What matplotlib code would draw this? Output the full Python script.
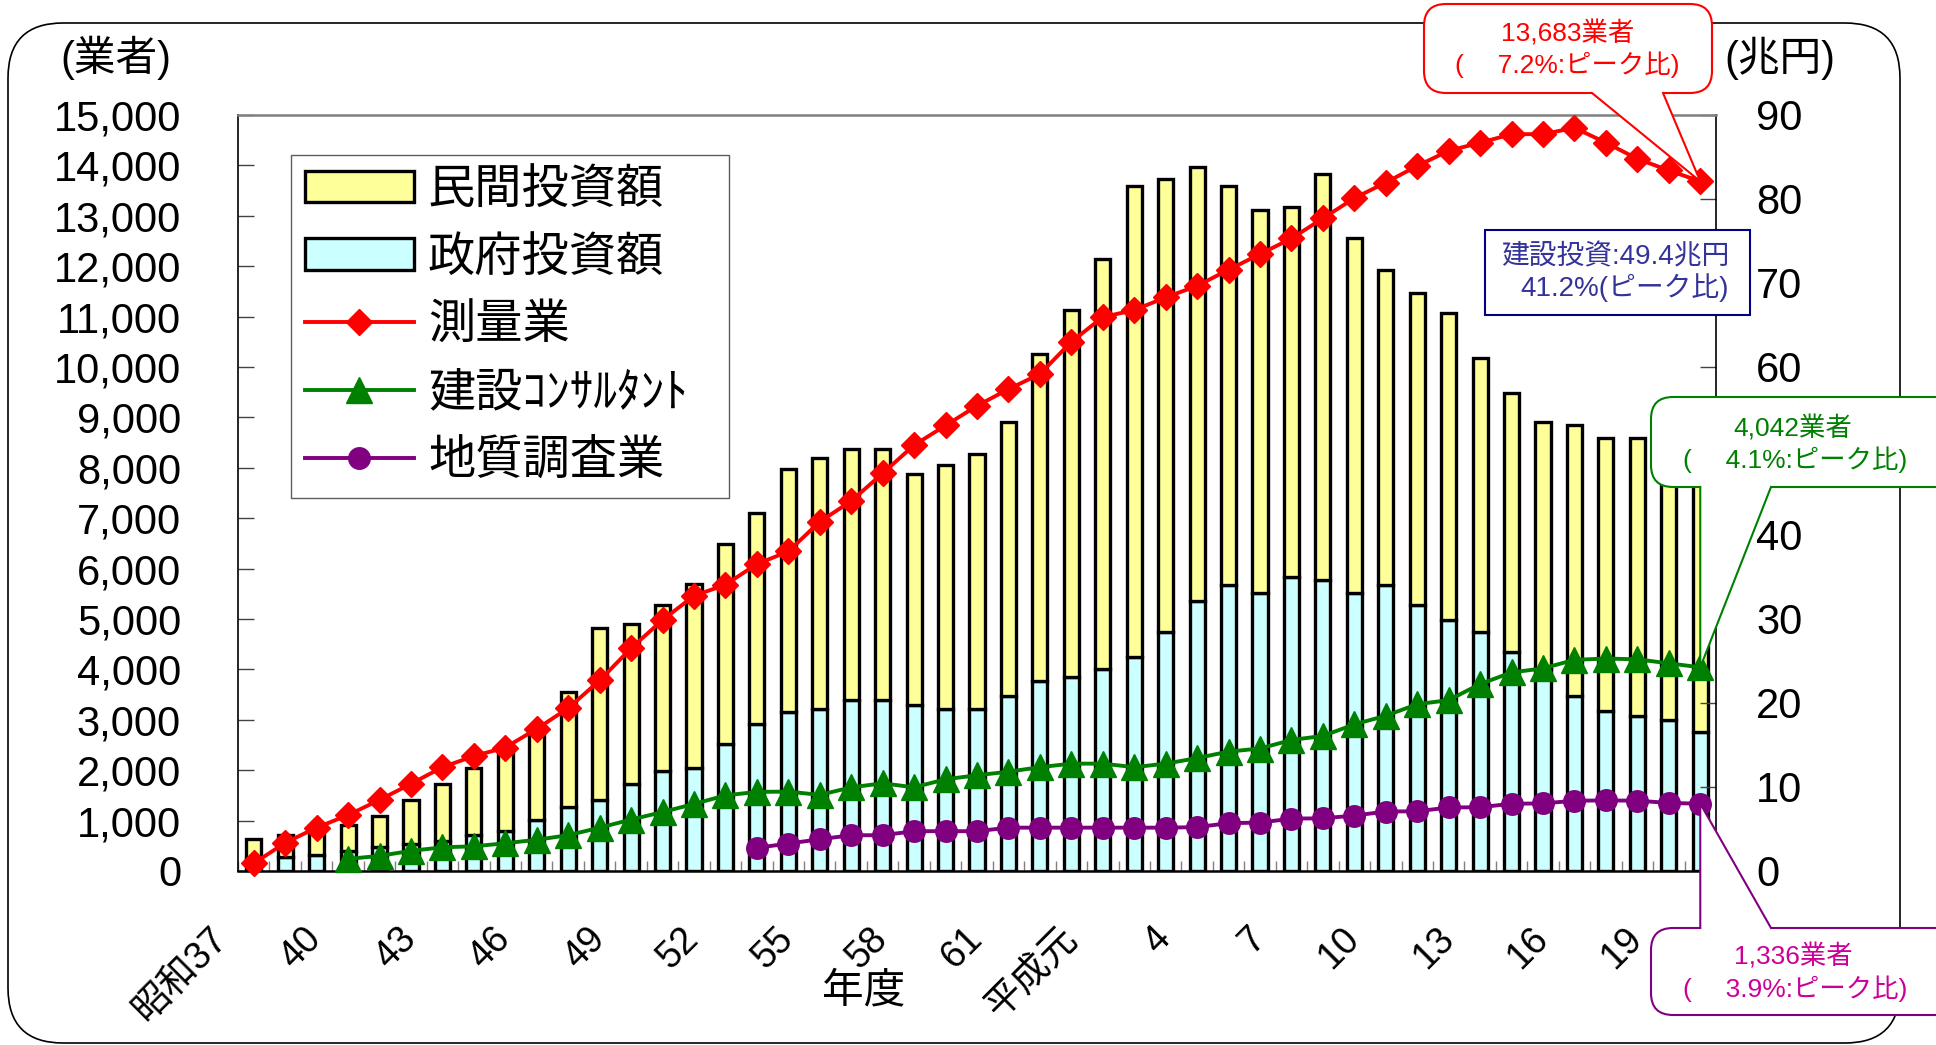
import numpy as np
import matplotlib.pyplot as plt
import matplotlib.transforms as mtransforms
from matplotlib.patches import FancyBboxPatch, Polygon, Rectangle, Patch
from matplotlib.lines import Line2D
from matplotlib.ticker import MultipleLocator, FuncFormatter

plt.rcParams['font.family'] = ['Liberation Sans', 'Noto Sans CJK JP']

# 年度 (昭和37 ~ 平成20)
tick_labels = ['昭和37', '40', '43', '46', '49', '52', '55', '58', '61',
               '平成元', '4', '7', '10', '13', '16', '19']
n_years = 47

# 建設投資 (兆円)
govt = [1.5, 1.7, 1.9, 2.4, 2.9, 3.2, 3.6, 4.3, 4.8, 6.1,
        7.6, 8.5, 10.4, 11.9, 12.3, 15.1, 17.5, 18.9, 19.3, 20.3,
        20.3, 19.8, 19.3, 19.3, 20.8, 22.6, 23.1, 24.0, 25.5, 28.4,
        32.2, 34.1, 33.1, 35.0, 34.6, 33.1, 34.1, 31.7, 29.9, 28.4,
        26.1, 24.0, 20.8, 19.0, 18.5, 18.0, 16.6]
private = [2.3, 2.6, 2.7, 3.1, 3.7, 5.3, 6.8, 8.0, 9.4, 10.3,
           13.7, 20.4, 19.0, 19.8, 21.9, 23.8, 25.1, 29.0, 29.9, 29.9,
           29.9, 27.5, 29.0, 30.4, 32.7, 38.9, 43.7, 48.9, 56.0, 54.0,
           51.6, 47.4, 45.6, 44.1, 48.4, 42.3, 37.4, 37.1, 36.5, 32.7,
           30.8, 29.5, 32.3, 32.6, 33.1, 32.0, 32.8]

# 業者数
survey = [150, 560, 860, 1110, 1410, 1730, 2060, 2280, 2450, 2820,
          3230, 3780, 4420, 4980, 5460, 5680, 6090, 6340, 6930, 7340,
          7890, 8450, 8840, 9230, 9560, 9860, 10500, 10990, 11130, 11380,
          11610, 11930, 12240, 12550, 12950, 13350, 13660, 13990, 14290, 14450,
          14620, 14620, 14745, 14450, 14130, 13900, 13683]
consult = [np.nan, np.nan, np.nan, 240, 300, 400, 470, 490, 550, 620,
           710, 860, 1020, 1170, 1330, 1500, 1570, 1575, 1510, 1660,
           1740, 1660, 1820, 1900, 1970, 2060, 2130, 2130, 2060, 2130,
           2240, 2370, 2430, 2600, 2680, 2910, 3080, 3310, 3390, 3710,
           3940, 4020, 4190, 4215, 4200, 4120, 4042]
geology = [np.nan] * 16 + [460, 545, 630, 710, 710, 790, 790, 790, 860, 860,
                           860, 860, 860, 860, 870, 950, 960, 1040, 1045, 1100,
                           1180, 1185, 1260, 1265, 1335, 1340, 1395, 1400, 1395, 1350,
                           1336]

x = np.arange(n_years)
tick_idx = np.arange(0, n_years, 3)

W, H = 1936, 1045
fig = plt.figure(figsize=(W / 100, H / 100), dpi=100)
ax = fig.add_axes([238 / W, 1 - 871 / H, 1478 / W, 756 / H])
ax2 = ax.twinx()
ax2.set_zorder(1)
ax.set_zorder(2)
ax.patch.set_visible(False)

# bars (right axis)
ax2.bar(x, govt, width=0.48, color='#CCFFFF', edgecolor='black', linewidth=2.4)
ax2.bar(x, private, width=0.48, bottom=govt, color='#FFFF99', edgecolor='black', linewidth=2.4)
ax2.set_ylim(0, 90)
ax2.yaxis.set_major_locator(MultipleLocator(10))
# the 50 label sits under the green callout in the original
ax2.yaxis.set_major_formatter(FuncFormatter(lambda v, p: '' if v == 50 else f'{v:.0f}'))
ax2.tick_params(axis='y', direction='in', length=11.5, width=1, color='#444444', pad=29, labelsize=30)
for s in ['top', 'left', 'bottom']:
    ax2.spines[s].set_visible(False)
ax2.spines['right'].set_linewidth(1.2)

# lines (left axis)
ax.plot(x, survey, color='red', lw=2.8, marker='D', ms=13.5, clip_on=False, zorder=5)
ax.plot(x, consult, color='#008000', lw=2.8, marker='^', ms=18.5, clip_on=False, zorder=4)
ax.plot(x, geology, color='#800080', lw=2.8, marker='o', ms=15.5, clip_on=False, zorder=3)

ax.set_xlim(-0.5, n_years - 0.5)
ax.set_ylim(0, 15000)
ax.yaxis.set_major_locator(MultipleLocator(1000))
ax.yaxis.set_major_formatter(FuncFormatter(lambda v, p: f'{v:,.0f}'))
ax.tick_params(axis='y', direction='in', length=11.5, width=1, color='#444444', pad=41, labelsize=30)
ax.set_xticks([])
ax.set_xticks(np.arange(-0.5, n_years, 1), minor=True)
ax.tick_params(axis='x', which='minor', direction='in', length=7, width=1, color='#808080')
ax.spines['right'].set_visible(False)
ax.spines['top'].set_color('#808080')
ax.spines['top'].set_linewidth(1.8)
ax.spines['left'].set_linewidth(1.2)
ax.spines['bottom'].set_linewidth(1.8)

# x labels, rotated
xlab_trans = (mtransforms.blended_transform_factory(ax.transData, ax.transAxes)
              + mtransforms.ScaledTranslation(-32 / 100, -62 / 100, fig.dpi_scale_trans))
for i, lab in zip(tick_idx, tick_labels):
    ax.text(i, 0, lab, transform=xlab_trans, rotation=45, rotation_mode='anchor',
            ha='right', va='center', fontsize=27)

# legend
handles = [
    Patch(facecolor='#FFFF99', edgecolor='black', linewidth=2.4),
    Patch(facecolor='#CCFFFF', edgecolor='black', linewidth=2.4),
    Line2D([], [], color='red', lw=2.8, marker='D', ms=13.5),
    Line2D([], [], color='#008000', lw=2.8, marker='^', ms=18.5),
    Line2D([], [], color='#800080', lw=2.8, marker='o', ms=15.5),
]
labels = ['民間投資額', '政府投資額', '測量業', '建設ｺﾝｻﾙﾀﾝﾄ', '地質調査業']
leg_top = (871 - 155) / 756
leg = ax.legend(handles, labels, loc='upper left',
                bbox_to_anchor=((291 - 238) / 1478, leg_top - 0.05, (729 - 291) / 1478, 0.05),
                mode='expand',
                fontsize=34, frameon=True, fancybox=False, edgecolor='#333333',
                borderpad=0.3, handlelength=2.3, handleheight=0.65,
                handletextpad=0.3, labelspacing=0.5, borderaxespad=0)
leg.get_frame().set_linewidth(1.0)

# overlay in pixel coordinates for frame, unit labels and callouts
ov = fig.add_axes([0, 0, 1, 1])
ov.set_xlim(0, W)
ov.set_ylim(H, 0)
ov.axis('off')
ov.patch.set_visible(False)
ov.set_zorder(5)

ov.add_patch(FancyBboxPatch((8, 23), 1892, 1020, boxstyle='round,pad=0,rounding_size=55',
                            fc='none', ec='black', lw=1.2, zorder=1))

ov.text(116, 58, '(業者)', ha='center', va='center', fontsize=30)
ov.text(1780, 58, '(兆円)', ha='center', va='center', fontsize=30)
ov.text(864, 991, '年度', ha='center', va='center', fontsize=30)


def to_px(axes, xv, yv):
    px, py = axes.transData.transform((xv, yv))
    return px, H - py


def callout(box, base_x, tip, color, tail_at_bottom=True):
    x0, y0, x1, y1 = box
    ov.add_patch(FancyBboxPatch((x0, y0), x1 - x0, y1 - y0,
                                boxstyle='round,pad=0,rounding_size=22',
                                fc='white', ec=color, lw=1.5, zorder=3))
    by = y1 if tail_at_bottom else y0
    inner = by - 3 if tail_at_bottom else by + 3
    bx1, bx2 = base_x
    ov.add_patch(Polygon([(bx1, inner), (bx1, by), tip, (bx2, by), (bx2, inner)],
                         closed=True, fc='white', ec='none', zorder=4))
    ov.plot([bx1, tip[0], bx2], [by, tip[1], by], color=color, lw=1.5, zorder=5)


tip_red = to_px(ax, x[-1], survey[-1])
tip_green = to_px(ax, x[-1], consult[-1])
tip_purple = to_px(ax, x[-1], geology[-1])

callout((1424, 4, 1712, 93), (1592, 1663), tip_red, 'red')
ov.text(1568, 33, '13,683業者', color='red', ha='center', va='center', fontsize=19, zorder=6)
ov.text(1567, 65, '(　 7.2%:ピーク比)', color='red', ha='center', va='center', fontsize=19, zorder=6)

callout((1651, 397, 1960, 487), (tip_green[0], 1771), tip_green, '#008000')
ov.text(1793, 428, '4,042業者', color='#008000', ha='center', va='center', fontsize=19, zorder=6)
ov.text(1795, 460, '(　 4.1%:ピーク比)', color='#008000', ha='center', va='center', fontsize=19, zorder=6)

callout((1651, 928, 1960, 1015), (tip_purple[0], 1771), tip_purple, '#800080', tail_at_bottom=False)
ov.text(1793, 956, '1,336業者', color='#CC0099', ha='center', va='center', fontsize=19, zorder=6)
ov.text(1795, 989, '(　 3.9%:ピーク比)', color='#CC0099', ha='center', va='center', fontsize=19, zorder=6)

ov.add_patch(Rectangle((1485, 230), 265, 85, fc='white', ec='#000080', lw=1.5, zorder=3))
ov.text(1729, 273, '建設投資:49.4兆円\n41.2%(ピーク比)', color='#333399', ha='right', va='center',
        multialignment='right', fontsize=20, linespacing=1.15, zorder=6)

fig.savefig('out.png', dpi=100)
